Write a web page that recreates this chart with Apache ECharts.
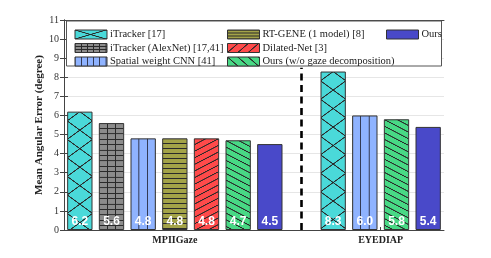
<!DOCTYPE html>
<html>
<head>
<meta charset="utf-8">
<script src="https://cdn.jsdelivr.net/npm/echarts@6/dist/echarts.min.js"></script>
<style>html,body{margin:0;padding:0;background:#fff}#c{width:491px;height:258px}</style>
</head>
<body>
<div id="c"></div>
<script>
// ---- data ----
const datasets = ['MPIIGaze', 'EYEDIAP'];
const methods = ['iTracker [17]', 'iTracker (AlexNet) [17,41]', 'Spatial weight CNN [41]',
  'RT-GENE (1 model) [8]', 'Dilated-Net [3]', 'Ours (w/o gaze decomposition)', 'Ours'];
const mpiigazeValues = [6.2, 5.6, 4.8, 4.8, 4.8, 4.7, 4.5];
const eyediapValues = [8.3, null, 6.0, null, null, 5.8, 5.4];
const yTicks = [0, 1, 2, 3, 4, 5, 6, 7, 8, 9, 10, 11];

// ---- styles ----
const fills = ['#4ad9d9', '#8c8c8c', '#8fb3ff', '#a3a348', '#ff4a4a', '#48d985', '#4949c9'];
const hatch = ['cross', 'grid', 'vert', 'horiz', 'fdiag', 'bdiag', 'none'];
const SERIF = 'Liberation Serif';

// layout constants
const G = {left: 64, right: 47, top: 20, bottom: 28, W: 491, H: 258};

// slots: MPIIGaze methods, separator, EYEDIAP methods
const slots = []; // {ds, m}
methods.forEach((m, i) => slots.push({ds: 0, m: i}));
const sepSlot = slots.length; slots.push({ds: -1, m: -1});
methods.forEach((m, i) => { if (eyediapValues[i] != null) slots.push({ds: 1, m: i}); });
const slotNames = slots.map((s, i) => s.ds < 0 ? 'sep' : datasets[s.ds] + ' / ' + methods[s.m]);
const dsCenters = datasets.map((d, di) => {
  const idx = slots.map((s, i) => s.ds === di ? i : -1).filter(i => i >= 0);
  return idx.reduce((a, b) => a + b, 0) / idx.length + 0.5;
});

function makePattern(type, fill, line, w, h, ox, oy) {
  const S = 4;
  const c = document.createElement('canvas');
  c.width = Math.max(1, Math.round(w * S)); c.height = Math.max(1, Math.round(h * S));
  const g = c.getContext('2d');
  g.fillStyle = fill; g.fillRect(0, 0, c.width, c.height);
  const W = c.width, H = c.height;
  let segs = [];
  if (type === 'cross') segs = [[0, 0, W, H], [0, H, W, 0]];
  else if (type === 'grid') segs = [[0, 0, 0, H], [0, 0, W, 0]];
  else if (type === 'vert') segs = [[0, 0, 0, H]];
  else if (type === 'horiz') segs = [[0, 0, W, 0]];
  else if (type === 'fdiag') segs = [[0, H, W, 0]];
  else if (type === 'bdiag') segs = [[0, 0, W, H]];
  g.strokeStyle = line; g.lineWidth = 1.0 * S;
  for (let dx = -1; dx <= 1; dx++) for (let dy = -1; dy <= 1; dy++) {
    segs.forEach(s => {
      g.beginPath();
      g.moveTo(s[0] + dx * W, s[1] + dy * H);
      g.lineTo(s[2] + dx * W, s[3] + dy * H);
      g.stroke();
    });
  }
  return {image: c, repeat: 'repeat', x: ox, y: oy, scaleX: w / W, scaleY: h / H};
}

const plotW = G.W - G.left - G.right, plotH = G.H - G.top - G.bottom;
const band = plotW / slots.length;
const barW = band * 0.8;
const yMax = 11;
function pxTop(v) { return G.top + (yMax - v) / yMax * plotH; }

function barColor(mi, slotIdx, v) {
  const t = hatch[mi];
  if (t === 'none') return fills[mi];
  const left = G.left + slotIdx * band + (band - barW) / 2;
  const top = pxTop(v);
  const lineC = '#2a2a2a';
  switch (t) {
    case 'cross': return makePattern(t, fills[mi], lineC, barW, 18.5, left, top - 9.25);
    case 'grid': return makePattern(t, fills[mi], lineC, barW / 3, 5.4, left, top);
    case 'vert': return makePattern(t, fills[mi], '#333a55', barW / 3, 4, left, top);
    case 'horiz': return makePattern(t, fills[mi], lineC, 4, 5, left, top);
    case 'fdiag': return makePattern(t, fills[mi], lineC, barW / 2, 6.6, left, top);
    case 'bdiag': return makePattern(t, fills[mi], lineC, barW / 2, 6.6, left, top);
  }
}
function legendColor(mi) {
  const t = hatch[mi];
  const lineC = '#2a2a2a';
  switch (t) {
    case 'none': return fills[mi];
    case 'cross': return makePattern(t, fills[mi], lineC, 31, 9, 0, 0);
    case 'grid': return makePattern(t, fills[mi], lineC, 31 / 5, 3, 0, 0);
    case 'vert': return makePattern(t, fills[mi], '#333a55', 31 / 5, 3, 0, 0);
    case 'horiz': return makePattern(t, fills[mi], lineC, 4, 3, 0, 0);
    case 'fdiag': return makePattern(t, fills[mi], lineC, 10.33, 9, 0, 0);
    case 'bdiag': return makePattern(t, fills[mi], lineC, 10.33, 9, 0, 0);
  }
}

const series = methods.map((m, mi) => {
  const data = slots.map((s, si) => {
    if (s.m !== mi) return '-';
    const v = s.ds === 0 ? mpiigazeValues[mi] : eyediapValues[mi];
    return {value: v, itemStyle: {color: barColor(mi, si, v)}};
  });
  const sObj = {
    type: 'bar', name: m, data: data, xAxisIndex: 0, yAxisIndex: 0,
    barWidth: '80%', barGap: '-100%',
    itemStyle: {color: fills[mi], borderColor: '#333', borderWidth: 1},
    label: {show: true, position: 'insideBottom', distance: 2, color: '#fff',
      fontFamily: 'Liberation Sans', fontWeight: 'bold', fontSize: 12, formatter: p => Number(p.value).toFixed(1)},
    emphasis: {disabled: true}
  };
  if (mi === methods.length - 1) {
    sObj.markLine = {
      silent: true, symbol: 'none', label: {show: false},
      lineStyle: {type: [7, 4.5], width: 2.6, color: '#000'},
      data: [[{coord: [slotNames[sepSlot], 0]}, {coord: [slotNames[sepSlot], 8.5]}]]
    };
  }
  return sObj;
});

// legend columns (column-major, 3 rows)
const cols = [[0, 1, 2], [3, 4, 5], [6]];
const colLeft = [69.5, 222, 381];
const legends = cols.map((c, ci) => ({
  orient: 'vertical', left: colLeft[ci], top: 22.75, itemWidth: 32, itemHeight: 9, itemGap: 0,
  icon: 'rect', selectedMode: false,
  textStyle: {fontFamily: SERIF, fontSize: 10.5, color: '#222', lineHeight: 13.5, padding: [0, 0, 0, -2]},
  data: c.map(mi => ({name: methods[mi], itemStyle: {color: legendColor(mi), borderColor: '#333', borderWidth: 1}}))
}));

const axisCol = '#444';
const option = {
  animation: false,
  backgroundColor: '#fff',
  grid: {left: G.left, right: G.right, top: G.top, bottom: G.bottom, containLabel: false},
  legend: legends,
  graphic: [{type: 'rect', z: 1, shape: {x: 66.5, y: 21, width: 375, height: 45},
    style: {fill: '#fff', stroke: '#555', lineWidth: 1}}],
  xAxis: [
    {type: 'category', data: slotNames, show: false},
    {type: 'value', min: 0, max: slots.length, position: 'bottom',
      axisLine: {show: true, lineStyle: {color: axisCol}},
      axisTick: {show: true, inside: true, length: 3, customValues: dsCenters, lineStyle: {color: axisCol}},
      axisLabel: {show: true, customValues: dsCenters, margin: 5, fontFamily: SERIF, fontWeight: 'bold', fontSize: 10, color: '#222',
        formatter: v => datasets[dsCenters.indexOf(v)] || ''},
      splitLine: {show: false}},
    {type: 'value', min: 0, max: slots.length, position: 'top',
      axisLine: {show: true, lineStyle: {color: axisCol}},
      axisTick: {show: true, inside: true, length: 3, customValues: dsCenters, lineStyle: {color: axisCol}},
      axisLabel: {show: false}, splitLine: {show: false}}
  ],
  yAxis: [
    {type: 'value', min: yTicks[0], max: yTicks[yTicks.length - 1], interval: 1, position: 'left',
      name: 'Mean Angular Error (degree)', nameLocation: 'middle', nameGap: 19, nameMoveOverlap: false,
      nameTextStyle: {fontFamily: SERIF, fontWeight: 'bold', fontSize: 11, color: '#222'},
      axisLine: {show: true, lineStyle: {color: axisCol}},
      axisTick: {show: true, inside: true, length: 4, lineStyle: {color: axisCol}},
      axisLabel: {margin: 5, fontFamily: SERIF, fontSize: 10, color: '#333'},
      splitLine: {show: true, lineStyle: {color: '#e6e6e6'}}},
    {type: 'value', min: yTicks[0], max: yTicks[yTicks.length - 1], interval: 1, position: 'right',
      axisLine: {show: true, lineStyle: {color: axisCol}},
      axisTick: {show: true, inside: true, length: 4, lineStyle: {color: axisCol}},
      axisLabel: {show: false}, splitLine: {show: false}}
  ],
  series: series
};
const chart = echarts.init(document.getElementById('c'), null, {renderer: 'canvas'});
chart.setOption(option);
</script>
</body>
</html>
